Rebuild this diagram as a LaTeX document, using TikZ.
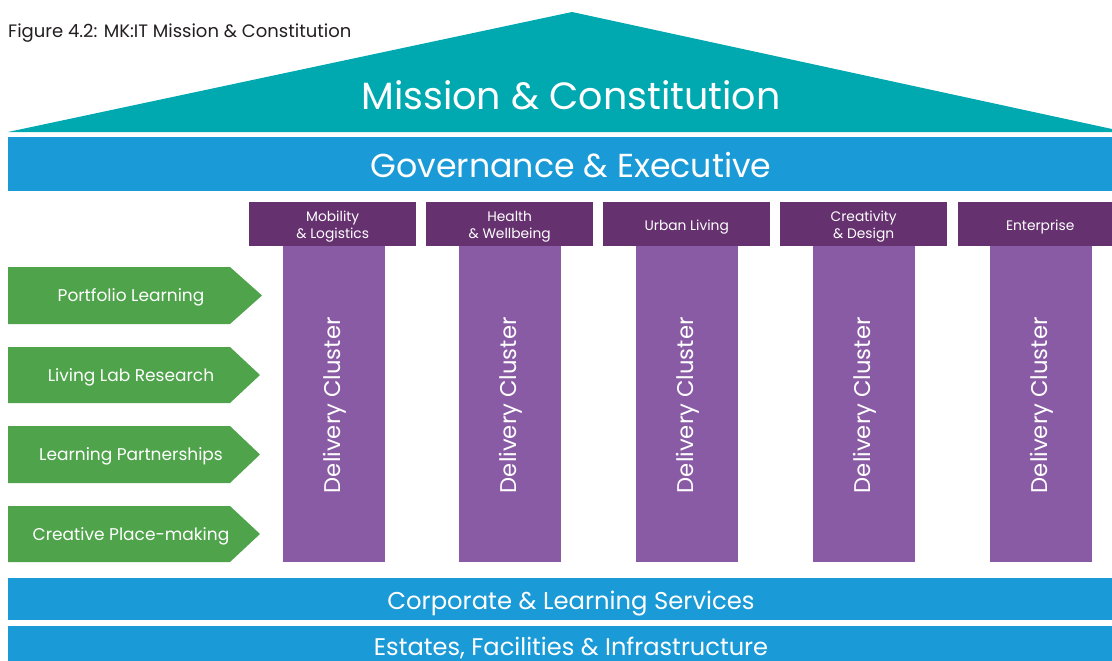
\documentclass[tikz,border=0pt]{standalone}
\usepackage{fontspec}
\setmainfont{Poppins}
\definecolor{teal}{HTML}{00A8B0}
\definecolor{bandblue}{HTML}{1A9AD6}
\definecolor{hdrpurple}{HTML}{65316F}
\definecolor{pilpurple}{HTML}{8A5BA5}
\definecolor{arrgreen}{HTML}{4FA34B}
\definecolor{titlegray}{HTML}{231F20}
\begin{document}
\begin{tikzpicture}[x=1pt,y=-1pt,
  band/.style={fill=bandblue, draw=none, inner sep=0pt},
  btext/.style={text=white, inner sep=0pt, anchor=base},
  hdr/.style={fill=hdrpurple, draw=none, minimum width=167pt, minimum height=44pt, inner sep=0pt},
  htext/.style={text=white, inner sep=0pt, align=center, font=\fontsize{13.8}{17}\selectfont},
  pillar/.style={fill=pilpurple, draw=none, minimum width=102pt, minimum height=316pt, inner sep=0pt},
  dclabel/.style={text=white, rotate=90, font=\fontsize{22.7}{26}\selectfont},
  glabel/.style={text=white, inner sep=0pt, anchor=base, font=\fontsize{17}{20}\selectfont}
]
\useasboundingbox (0,0) rectangle (1112,661);
% title
\node[anchor=base west, text=titlegray, font=\fontsize{18}{21}\selectfont, inner sep=0pt] (title) at (8,38) {Figure 4.2: MK:IT Mission \& Constitution};
% roof
\fill[teal] (8,132) -- (572,12) -- (1112,129) -- (1112,132) -- cycle;
\node[btext, font=\fontsize{38}{44}\selectfont] (mission) at (571,110) {Mission \& Constitution};
% governance
\node[band, minimum width=1104pt, minimum height=54pt] (gov) at (560,164) {};
\node[btext, font=\fontsize{33.2}{38}\selectfont] (govt) at (571,177) {Governance \& Executive};
% pillars
\foreach \px/\name in {283/a, 459/b, 636/c, 813/d, 990/e}{
  \node[pillar, anchor=north west] (p\name) at (\px,246) {};
  \node[dclabel] (dc\name) at ([xshift=1pt,yshift=-1pt]p\name.center) {Delivery Cluster};
}
% headers
\node[hdr, anchor=north west] (ha) at (249,202) {};
\node[hdr, anchor=north west] (hb) at (426,202) {};
\node[hdr, anchor=north west] (hc) at (603,202) {};
\node[hdr, anchor=north west] (hd) at (780,202) {};
\node[hdr, anchor=north west, minimum width=154pt] (he) at (958,202) {};
\node[htext] (hta) at ([yshift=-2.5pt]ha.center) {Mobility\\\& Logistics};
\node[htext] (htb) at ([yshift=-2.5pt]hb.center) {Health\\\& Wellbeing};
\node[htext] (htc) at ([yshift=-2.5pt]hc.center) {Urban Living};
\node[htext] (htd) at ([yshift=-2.5pt]hd.center) {Creativity\\\& Design};
\node[htext] (hte) at ([xshift=5pt,yshift=-2.5pt]he.center) {Enterprise};
% green arrows
\foreach \yt/\yb/\tip/\name/\txt in {267/324/262/ga/{Portfolio Learning}, 347/403/260/gb/{Living Lab Research}, 426/483/260/gc/{Learning Partnerships}, 506/562/260/gd/{Creative Place-making}}{
  \fill[arrgreen] (8,\yt) -- (230,\yt) -- (\tip,{(\yt+\yb)/2}) -- (230,\yb) -- (8,\yb) -- cycle;
  \node[glabel] (\name) at (131,{(\yt+\yb)/2+6}) {\txt};
}
% bottom bands
\node[band, minimum width=1104pt, minimum height=42pt] (corp) at (560,599) {};
\node[btext, font=\fontsize{24.3}{28}\selectfont] (corpt) at (571,609) {Corporate \& Learning Services};
\node[band, minimum width=1104pt, minimum height=35pt, anchor=north] (est) at (560,626) {};
\node[btext, font=\fontsize{24.1}{28}\selectfont] (estt) at (571,655) {Estates, Facilities \& Infrastructure};
\end{tikzpicture}
\end{document}
